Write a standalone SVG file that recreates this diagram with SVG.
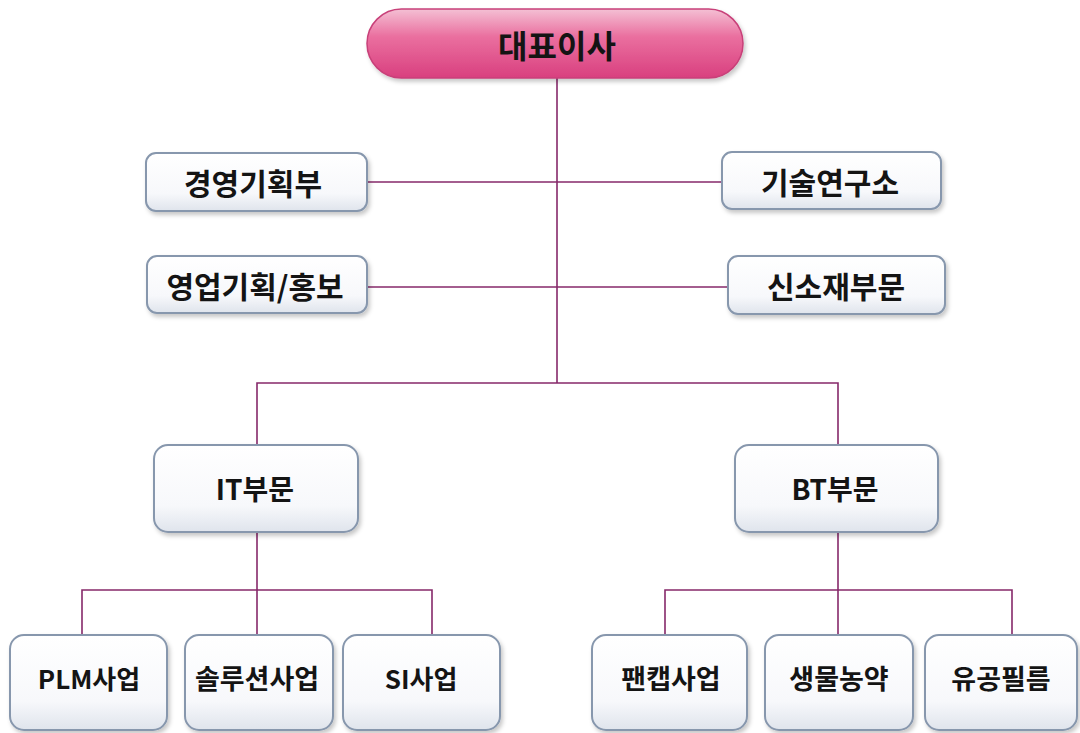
<svg xmlns="http://www.w3.org/2000/svg" width="1080" height="733" viewBox="0 0 1080 733">
<defs>
<linearGradient id="pink" x1="0" y1="0" x2="0" y2="1">
<stop offset="0" stop-color="#f4c0d4"/>
<stop offset="0.4" stop-color="#ea6f9f"/>
<stop offset="1" stop-color="#d9407f"/>
</linearGradient>
<linearGradient id="box" x1="0" y1="0" x2="0" y2="1">
<stop offset="0" stop-color="#ffffff"/>
<stop offset="0.7" stop-color="#f7f8fb"/>
<stop offset="1" stop-color="#dfe4ec"/>
</linearGradient>
<filter id="sh" x="-10%" y="-10%" width="125%" height="130%">
<feDropShadow dx="2" dy="3" stdDeviation="2" flood-color="#000" flood-opacity="0.22"/>
</filter>
<style>
.b{fill:url(#box);stroke:#8797ad;stroke-width:2;filter:url(#sh)}
.t{font-family:"Noto Sans CJK KR","Malgun Gothic",sans-serif;font-weight:bold;fill:#141414;text-anchor:middle;dominant-baseline:central}
.c{fill:none;stroke:#86286a;stroke-width:1.6}
</style>
</defs>
<rect width="1080" height="733" fill="#fff"/>
<g id="connectors">
<line class="c" x1="557" y1="78" x2="557" y2="383"/>
<line class="c" x1="367" y1="182" x2="722" y2="182"/>
<line class="c" x1="367" y1="287" x2="728" y2="287"/>
<polyline class="c" points="257,445 257,383 838,383 838,445"/>
<line class="c" x1="257" y1="532" x2="257" y2="635"/>
<polyline class="c" points="82,635 82,590 432,590 432,635"/>
<line class="c" x1="838" y1="532" x2="838" y2="635"/>
<polyline class="c" points="665,635 665,590 1012,590 1012,635"/>
</g>
<g id="ceo">
<rect x="367" y="9" width="376" height="69" rx="34.5" fill="url(#pink)" stroke="#c84079" stroke-width="1.5" filter="url(#sh)"/>
<text class="t" x="557" y="44" font-size="32">대표이사</text>
</g>
<g id="n1"><rect class="b" x="146" y="153" width="221" height="58" rx="10"/><text class="t" x="253" y="182" font-size="30">경영기획부</text></g>
<g id="n2"><rect class="b" x="147" y="256" width="220" height="57" rx="10"/><text class="t" x="255" y="285" font-size="30">영업기획/홍보</text></g>
<g id="n3"><rect class="b" x="722" y="152" width="219" height="57" rx="10"/><text class="t" x="830" y="181" font-size="30">기술연구소</text></g>
<g id="n4"><rect class="b" x="728" y="256" width="217" height="58" rx="10"/><text class="t" x="836" y="285" font-size="30">신소재부문</text></g>
<g id="it"><rect class="b" x="154" y="445" width="204" height="87" rx="14"/><text class="t" x="255" y="488" font-size="28">IT부문</text></g>
<g id="bt"><rect class="b" x="735" y="445" width="203" height="87" rx="14"/><text class="t" x="835" y="488" font-size="28">BT부문</text></g>
<g id="c1"><rect class="b" x="10" y="635" width="157" height="95" rx="14"/><text class="t" x="89" y="677" font-size="26">PLM사업</text></g>
<g id="c2"><rect class="b" x="185" y="635" width="148" height="95" rx="14"/><text class="t" x="257" y="677" font-size="27">솔루션사업</text></g>
<g id="c3"><rect class="b" x="343" y="635" width="157" height="95" rx="14"/><text class="t" x="421" y="677" font-size="26">SI사업</text></g>
<g id="c4"><rect class="b" x="592" y="635" width="155" height="95" rx="14"/><text class="t" x="671" y="677" font-size="27">팬캡사업</text></g>
<g id="c5"><rect class="b" x="765" y="635" width="148" height="95" rx="14"/><text class="t" x="839" y="677" font-size="27">생물농약</text></g>
<g id="c6"><rect class="b" x="925" y="635" width="152" height="95" rx="14"/><text class="t" x="1001" y="677" font-size="27">유공필름</text></g>
</svg>
